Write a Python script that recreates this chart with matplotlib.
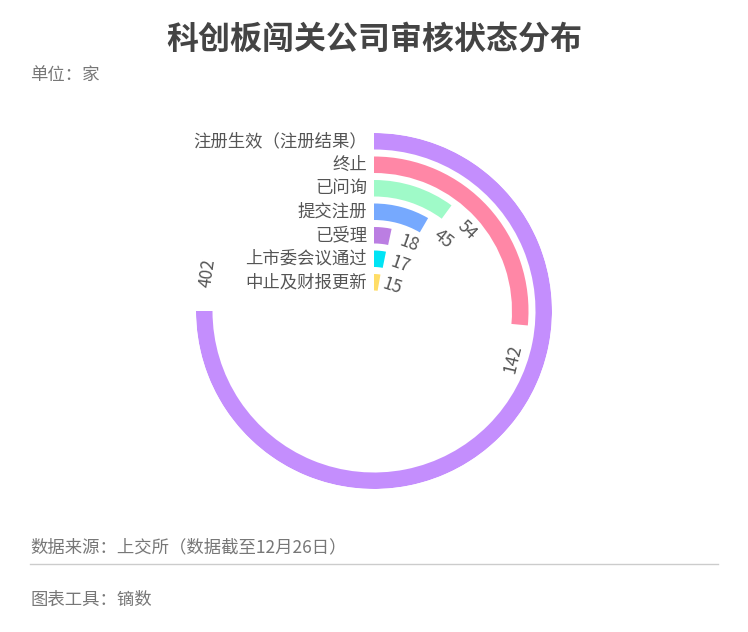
import numpy as np
import matplotlib
matplotlib.use('Agg')
import matplotlib.pyplot as plt

plt.rcParams['font.family'] = ['Noto Sans CJK SC', 'DejaVu Sans']

# datos
categorias = ['注册生效（注册结果）', '终止', '已问询', '提交注册', '已受理', '上市委会议通过', '中止及财报更新']
valores = [402, 142, 54, 45, 18, 17, 15]
colores = ['#C48EFD', '#FF87A6', '#9FFAC8', '#76A9FE', '#BB7EE2', '#00E4F5', '#FFDD66']

W, H = 748, 632
fig = plt.figure(figsize=(W / 100, H / 100), dpi=100)

# centro y radio del grafico en pixeles
cx, cy, R = 374, 311, 178
ax = fig.add_axes([(cx - R) / W, 1 - (cy + R) / H, 2 * R / W, 2 * R / H], projection='polar')
ax.set_theta_zero_location('N')
ax.set_theta_direction(-1)
ax.set_ylim(0, R)
ax.axis('off')

escala = 270 / max(valores)  # grados por unidad
paso, grosor = 23.5, 16.5
gap = 8  # grados entre barra y etiqueta

for i, (cat, v, c) in enumerate(zip(categorias, valores, colores)):
    r_out = R - paso * i
    r_mid = r_out - grosor / 2
    ang = v * escala
    ax.barh(r_mid, np.deg2rad(ang), left=0, height=grosor, color=c, align='center')

    # nombre de la categoria a la izquierda del inicio
    ax.annotate(cat, xy=(0, r_mid), xytext=(-7, 0), textcoords='offset pixels',
                ha='right', va='center', fontsize=12.5, color='#555555')

    # valor en direccion tangencial
    th = ang + gap
    rot = -th
    ha = 'left'
    if (rot % 360) > 90 and (rot % 360) < 270:
        rot += 180
        ha = 'right'
    ax.text(np.deg2rad(th), r_mid, str(v), rotation=rot, rotation_mode='anchor',
            ha=ha, va='center', fontsize=12.5, color='#555555')

# titulo y notas
fig.text(0.5, 1 - 40 / H, '科创板闯关公司审核状态分布', ha='center', va='center',
         fontsize=23, fontweight='bold', color='#444444')
fig.text(30 / W, 1 - 75 / H, '单位：家', ha='left', va='center', fontsize=12.5, color='#777777')
fig.text(30 / W, 1 - 547 / H, '数据来源：上交所（数据截至12月26日）', ha='left', va='center',
         fontsize=12.5, color='#777777')
fig.add_artist(plt.Line2D([30 / W, 718 / W], [1 - 564 / H, 1 - 564 / H], color='#CCCCCC', linewidth=1))
fig.text(30 / W, 1 - 600 / H, '图表工具：镝数', ha='left', va='center', fontsize=12.5, color='#777777')

fig.savefig('out.png', dpi=100, facecolor='white')
